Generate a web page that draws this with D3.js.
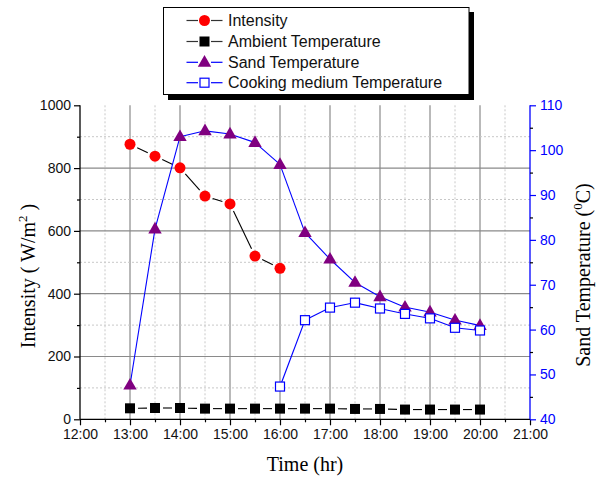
<!DOCTYPE html>
<html><head><meta charset="utf-8">
<script src="https://cdn.jsdelivr.net/npm/d3@7"></script>
<style>body{margin:0;background:#fff}svg{display:block}</style>
</head><body>
<svg id="c" width="600" height="477"></svg>
<script>
const times = ["13:00","13:30","14:00","14:30","15:00","15:30","16:00","16:30","17:00","17:30","18:00","18:30","19:00","19:30","20:00"];
const intensity = [876, 838, 801, 711, 686, 520, 481, null, null, null, null, null, null, null, null];
const ambient = [35, 36, 36, 34, 34, 34, 34, 34, 34, 33, 33, 31, 31, 31, 31];
const sandTemp = [47.6, 82.4, 103.0, 104.3, 103.6, 101.7, 96.8, 81.6, 75.7, 70.5, 67.3, 65.0, 63.9, 62.1, 60.9];
const cookTemp = [null, null, null, null, null, null, 47.3, 62.1, 64.9, 66.0, 64.7, 63.5, 62.5, 60.4, 59.8];
const xTickLabels = ["12:00","13:00","14:00","15:00","16:00","17:00","18:00","19:00","20:00","21:00"];
const legendLabels = ["Intensity","Ambient Temperature","Sand Temperature","Cooking medium Temperature"];

const toH = s => { const [h,m] = s.split(":").map(Number); return h + m/60; };
const svg = d3.select("#c");
const L = 80, R = 530, T = 105.3, B = 419.3;
const x = d3.scaleLinear().domain([12,21]).range([L,R]);
const yL = d3.scaleLinear().domain([0,1000]).range([B,T]);
const yR = d3.scaleLinear().domain([40,110]).range([B,T]);

// grid
const g = svg.append("g");
d3.range(12.5, 21, 0.5).forEach(h => {
  const major = Math.abs(h - Math.round(h)) < 1e-6;
  g.append("line").attr("x1", x(h)).attr("x2", x(h)).attr("y1", T).attr("y2", B)
    .attr("stroke", major ? "#8a8a8a" : "#c8c8c8").attr("stroke-width", major ? 1.2 : 1)
    .attr("stroke-dasharray", major ? null : "2,2");
});
d3.range(100, 1000, 100).forEach(v => {
  const major = v % 200 === 0;
  g.append("line").attr("x1", L).attr("x2", R).attr("y1", yL(v)).attr("y2", yL(v))
    .attr("stroke", major ? "#8a8a8a" : "#c8c8c8").attr("stroke-width", major ? 1.2 : 1)
    .attr("stroke-dasharray", major ? null : "2,2");
});

// axes
const font = "'Liberation Sans', Arial, sans-serif";
const serif = "'Liberation Serif', 'Times New Roman', serif";
const xAxis = d3.axisBottom(x).tickValues(d3.range(12,22,1)).tickSize(6).tickPadding(4)
  .tickFormat((d,i) => xTickLabels[i]);
const gx = svg.append("g").attr("transform", `translate(0,${B})`).call(xAxis);
svg.append("g").attr("transform", `translate(0,${B})`)
  .call(d3.axisBottom(x).tickValues(d3.range(12.5,21,1)).tickSize(3).tickFormat(""))
  .select(".domain").remove();
const gyl = svg.append("g").attr("transform", `translate(${L},0)`)
  .call(d3.axisLeft(yL).tickValues(d3.range(0,1001,200)).tickSize(6).tickPadding(3).tickFormat(d3.format("d")));
svg.append("g").attr("transform", `translate(${L},0)`)
  .call(d3.axisLeft(yL).tickValues(d3.range(100,1000,200)).tickSize(3).tickFormat(""))
  .select(".domain").remove();
const gyr = svg.append("g").attr("transform", `translate(${R},0)`)
  .call(d3.axisRight(yR).tickValues(d3.range(40,111,10)).tickSize(6).tickPadding(4));
svg.append("g").attr("transform", `translate(${R},0)`)
  .call(d3.axisRight(yR).tickValues(d3.range(45,110,10)).tickSize(3).tickFormat(""))
  .select(".domain").remove();
svg.selectAll(".tick line").attr("stroke-width", 1.2);
svg.selectAll(".tick text").attr("font-family", font).attr("font-size", 14).attr("fill", "#111");
gyr.selectAll(".tick text").attr("fill", "#0000ff");
gyr.selectAll("line,path").attr("stroke", "#0000ff");
svg.selectAll("g").filter(function(){ return this.parentNode && this.parentNode.getAttribute && this.parentNode.getAttribute("transform") === `translate(${R},0)`; });
[gx, gyl, gyr].forEach(a => a.select(".domain").remove());
gx.append("line").attr("x1", L).attr("x2", R).attr("y1", 0).attr("y2", 0).attr("stroke", "#000").attr("stroke-width", 1.3);
gyl.append("line").attr("x1", 0).attr("x2", 0).attr("y1", T).attr("y2", B).attr("stroke", "#000").attr("stroke-width", 1.3);
gyr.append("line").attr("x1", 0).attr("x2", 0).attr("y1", T).attr("y2", B).attr("stroke", "#0000ff").attr("stroke-width", 1.3);

// axis titles
svg.append("text").attr("x", 305).attr("y", 471).attr("text-anchor", "middle")
  .attr("font-family", serif).attr("font-size", 20).text("Time (hr)");
const lt = svg.append("text").attr("transform", "translate(35,276) rotate(-90)").attr("text-anchor", "middle")
  .attr("font-family", serif).attr("font-size", 20);
lt.append("tspan").text("Intensity ( W/m");
lt.append("tspan").attr("dy", -8).attr("font-size", 13).text("2");
lt.append("tspan").attr("dy", 8).text(" )");
const rt = svg.append("text").attr("transform", "translate(590,275) rotate(-90)").attr("text-anchor", "middle")
  .attr("font-family", serif).attr("font-size", 20);
rt.append("tspan").text("Sand Temperature (");
rt.append("tspan").attr("dy", -8).attr("font-size", 13).text("0");
rt.append("tspan").attr("dy", 8).text("C)");

// series
function pts(vals, ys) {
  return times.map((t,i) => vals[i] == null ? null : [x(toH(t)), ys(vals[i])]).filter(p => p);
}
function gapLines(p, color, gap) {
  for (let i = 0; i < p.length - 1; i++) {
    const [x0,y0] = p[i], [x1,y1] = p[i+1];
    const dx = x1-x0, dy = y1-y0, len = Math.hypot(dx,dy);
    if (len <= 2*gap) continue;
    const ux = dx/len, uy = dy/len;
    svg.append("line").attr("x1", x0+ux*gap).attr("y1", y0+uy*gap)
      .attr("x2", x1-ux*gap).attr("y2", y1-uy*gap).attr("stroke", color).attr("stroke-width", 1.1);
  }
}
const tri = d3.symbol().type(d3.symbolTriangle).size(78);
function drawCircle(sel, cx, cy) { sel.append("circle").attr("cx", cx).attr("cy", cy).attr("r", 5.5).attr("fill", "#ff0000"); }
function drawSq(sel, cx, cy) { sel.append("rect").attr("x", cx-5).attr("y", cy-5).attr("width", 10).attr("height", 10).attr("fill", "#000"); }
function drawTri(sel, cx, cy) { sel.append("path").attr("d", tri()).attr("transform", `translate(${cx},${cy+0.5})`).attr("fill", "#800080"); }
function drawOpen(sel, cx, cy) { sel.append("rect").attr("x", cx-4.5).attr("y", cy-4.5).attr("width", 9).attr("height", 9).attr("fill", "#fff").attr("stroke", "#0000ff").attr("stroke-width", 1.2); }

const pI = pts(intensity, yL), pA = pts(ambient, yL), pS = pts(sandTemp, yR), pC = pts(cookTemp, yR);
gapLines(pA, "#000", 8);
gapLines(pI, "#000", 8);
gapLines(pS, "#0000ff", 2);
gapLines(pC, "#0000ff", 2);
pA.forEach(p => drawSq(svg, p[0], p[1]));
pI.forEach(p => drawCircle(svg, p[0], p[1]));
pS.forEach(p => drawTri(svg, p[0], p[1]));
pC.forEach(p => drawOpen(svg, p[0], p[1]));

// legend
const lg = svg.append("g");
lg.append("rect").attr("x", 168).attr("y", 12).attr("width", 306).attr("height", 88).attr("fill", "#000");
lg.append("rect").attr("x", 163.5).attr("y", 7.5).attr("width", 305.5).attr("height", 87).attr("fill", "#fff").attr("stroke", "#000").attr("stroke-width", 1);
const rowsY = [20.5, 41.5, 62.3, 82.7];
const lcol = ["#333", "#333", "#0000ff", "#0000ff"];
const drawers = [drawCircle, drawSq, drawTri, drawOpen];
legendLabels.forEach((lab, i) => {
  const cy = rowsY[i];
  lg.append("line").attr("x1", 186.5).attr("x2", 198).attr("y1", cy).attr("y2", cy).attr("stroke", lcol[i]).attr("stroke-width", 1.2);
  lg.append("line").attr("x1", 211).attr("x2", 222.5).attr("y1", cy).attr("y2", cy).attr("stroke", lcol[i]).attr("stroke-width", 1.2);
  drawers[i](lg, 204.5, cy);
  lg.append("text").attr("x", 228).attr("y", cy + 5.5).attr("font-family", font).attr("font-size", 16).attr("fill", "#111").text(lab);
});
</script>
</body></html>
